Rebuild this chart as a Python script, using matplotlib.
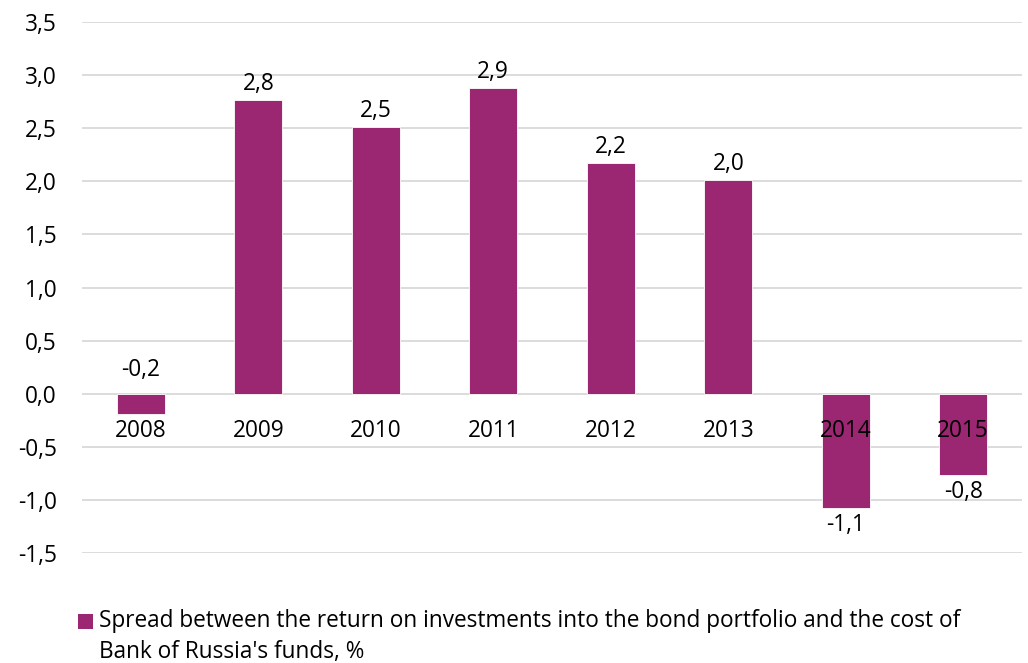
#!/usr/bin/env python3
"""Spread between bond portfolio return and cost of Bank of Russia's funds."""

import matplotlib.pyplot as plt
from matplotlib.patches import Rectangle

YEARS = ["2008", "2009", "2010", "2011", "2012", "2013", "2014", "2015"]
SPREAD = [-0.19, 2.77, 2.51, 2.88, 2.17, 2.01, -1.08, -0.77]
LABELS = ["-0,2", "2,8", "2,5", "2,9", "2,2", "2,0", "-1,1", "-0,8"]
LEGEND = ("Spread between the return on investments into the bond portfolio and the cost of\n"
          "Bank of Russia's funds, %")
YTICKS = [-1.5, -1.0, -0.5, 0.0, 0.5, 1.0, 1.5, 2.0, 2.5, 3.0, 3.5]

PURPLE = "#9B2671"
GRID = "#D9D9D9"
FS = 16.3

plt.rcParams["font.family"] = ["Open Sans", "DejaVu Sans"]
plt.rcParams["font.size"] = FS

fig = plt.figure(figsize=(10.28, 6.63), dpi=100)
ax = fig.add_axes([82 / 1028, 1 - 553 / 663, 940 / 1028, 531 / 663])

xpos = list(range(len(YEARS)))
ax.bar(xpos, SPREAD, width=0.41, color=PURPLE, edgecolor="white", linewidth=0.6, zorder=2)

ax.set_xlim(-0.5, len(YEARS) - 0.5)
ax.set_ylim(-1.5, 3.5)
ax.set_yticks(YTICKS)
ax.set_yticklabels([f"{t:.1f}".replace(".", ",") for t in YTICKS])
ax.set_xticks([])
ax.tick_params(axis="y", length=0, pad=18, labelsize=FS)
ax.grid(axis="y", color=GRID, linewidth=1.3, zorder=0)
for side in ["top", "right", "left", "bottom"]:
    ax.spines[side].set_visible(False)

# category names sit just under the zero line, over the bars
for x, name in zip(xpos, YEARS):
    ax.annotate(name, (x, 0), xytext=(0, -37), textcoords="offset pixels",
                ha="center", va="center", fontsize=FS, zorder=3)

# value labels: above positive bars (and the small 2008 one), below the rest
for x, y, lab in zip(xpos, SPREAD, LABELS):
    if y > -0.5:
        off = 4 if y > 0 else 12
        ax.annotate(lab, (x, max(y, 0)), xytext=(0, off), textcoords="offset pixels",
                    ha="center", va="bottom", fontsize=FS, zorder=3)
    else:
        ax.annotate(lab, (x, y), xytext=(0, -5), textcoords="offset pixels",
                    ha="center", va="top", fontsize=FS, zorder=3)

fig.patches.append(Rectangle((78 / 1028, 1 - 629 / 663), 15 / 1028, 15 / 663,
                             transform=fig.transFigure, facecolor=PURPLE,
                             edgecolor="none"))
fig.text(99 / 1028, 1 - 609 / 663, LEGEND, ha="left", va="top",
         fontsize=FS, linespacing=1.4)

fig.savefig("out.png", dpi=100)
